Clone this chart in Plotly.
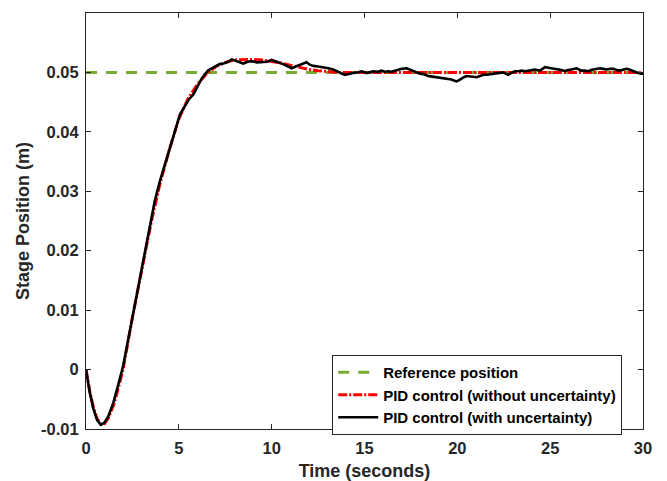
import plotly.graph_objects as go

# ---------------- data ----------------
ref_t = [0, 30]
ref_v = [0.05, 0.05]

red_t = [0, 0.2, 0.4, 0.6, 0.8, 1.0, 1.2, 1.5, 1.8, 2.0,
         2.5, 3.0, 3.5, 4.0, 4.5, 5.0, 5.5, 6.0, 6.5, 7.0,
         7.5, 8.0, 8.5, 9.0, 9.5, 10.0, 10.5, 11.0, 11.5, 12.0,
         12.5, 13.0, 13.5, 14, 15, 16, 18, 20, 22, 24,
         26, 28, 30]
red_v = [0.0, -0.0036, -0.0064, -0.0083, -0.0092, -0.0091, -0.0082, -0.0059, -0.0024, 0.0001,
         0.0088, 0.0167, 0.0246, 0.0315, 0.0371, 0.0422, 0.0456, 0.0480, 0.0498, 0.0510,
         0.0517, 0.0521, 0.0522, 0.0522, 0.0521, 0.0519, 0.0516, 0.0512, 0.0508, 0.0505,
         0.0503, 0.0501, 0.0500, 0.0500, 0.0500, 0.0500, 0.0500, 0.0500, 0.0500, 0.0500,
         0.0500, 0.0500, 0.0500]

blk_t = [0, 0.2, 0.4, 0.6, 0.8, 1.0, 1.2, 1.47, 1.7, 2.0,
         2.3, 2.55, 2.8, 3.0, 3.25, 3.45, 3.7, 3.98, 4.25, 4.52,
         4.8, 5.06, 5.3, 5.55, 5.78, 6.0, 6.2, 6.4, 6.6, 6.85,
         7.05, 7.2, 7.4, 7.6, 7.85, 8.05, 8.25, 8.47, 8.7, 8.92,
         9.2, 9.46, 9.75, 10.0, 10.2, 10.45, 10.75, 11.08, 11.3, 11.52,
         11.7, 11.88, 12.05, 12.24, 12.5, 12.78, 13.05, 13.32, 13.5, 13.7,
         13.95, 14.2, 14.39, 14.6, 14.85, 15.11, 15.3, 15.47, 15.7, 15.92,
         16.1, 16.28, 16.45, 16.64, 16.8, 17.0, 17.27, 17.45, 17.63, 17.8,
         17.99, 18.2, 18.43, 18.65, 18.89, 19.1, 19.33, 19.5, 19.69, 19.85,
         19.96, 20.1, 20.23, 20.35, 20.5, 20.7, 20.86, 21.05, 21.22, 21.4,
         21.58, 21.85, 22.05, 22.2, 22.47, 22.6, 22.74, 22.9, 23.1, 23.3,
         23.46, 23.65, 23.82, 24.0, 24.18, 24.45, 24.6, 24.72, 24.9, 25.08,
         25.25, 25.43, 25.6, 25.79, 25.95, 26.15, 26.42, 26.55, 26.69, 26.85,
         27.05, 27.2, 27.41, 27.68, 27.85, 28.04, 28.2, 28.4, 28.58, 28.76,
         28.95, 29.12, 29.25, 29.39, 29.55, 29.75, 29.9, 30.0]
blk_v = [0.0, -0.0038, -0.0066, -0.0085, -0.0093, -0.0089, -0.0079, -0.0056, -0.0030, 0.0006,
         0.0055, 0.0097, 0.0137, 0.0171, 0.0212, 0.0247, 0.0283, 0.0317, 0.0346, 0.0374,
         0.0405, 0.0429, 0.0442, 0.0455, 0.0463, 0.0476, 0.0488, 0.0497, 0.0504, 0.0508,
         0.0511, 0.0514, 0.0515, 0.0517, 0.0522, 0.0520, 0.0517, 0.0515, 0.0518, 0.0519,
         0.0517, 0.0518, 0.0518, 0.0521, 0.0519, 0.0516, 0.0512, 0.0507, 0.0510, 0.0513,
         0.0515, 0.0517, 0.0513, 0.0511, 0.0510, 0.0509, 0.0507, 0.0505, 0.0502, 0.0499,
         0.0496, 0.0497, 0.0499, 0.0500, 0.0502, 0.0499, 0.0500, 0.0502, 0.0501, 0.0503,
         0.0501, 0.0502, 0.0501, 0.0503, 0.0504, 0.0506, 0.0507, 0.0505, 0.0502, 0.0500,
         0.0498, 0.0497, 0.0494, 0.0493, 0.0492, 0.0491, 0.0490, 0.0489, 0.0488, 0.0486,
         0.0485, 0.0487, 0.0490, 0.0492, 0.0494, 0.0493, 0.0493, 0.0492, 0.0494, 0.0496,
         0.0496, 0.0497, 0.0499, 0.0499, 0.0500, 0.0498, 0.0496, 0.0499, 0.0502, 0.0502,
         0.0503, 0.0502, 0.0503, 0.0504, 0.0505, 0.0503, 0.0506, 0.0509, 0.0508, 0.0507,
         0.0507, 0.0506, 0.0504, 0.0502, 0.0504, 0.0505, 0.0507, 0.0505, 0.0503, 0.0503,
         0.0502, 0.0504, 0.0505, 0.0507, 0.0506, 0.0505, 0.0506, 0.0506, 0.0504, 0.0503,
         0.0505, 0.0506, 0.0505, 0.0503, 0.0501, 0.0499, 0.0498, 0.0498]

x_ticks = [0, 5, 10, 15, 20, 25, 30]
y_ticks = [-0.01, 0, 0.01, 0.02, 0.03, 0.04, 0.05, 0.06]
y_tick_text = ["-0.01", "0", "0.01", "0.02", "0.03", "0.04", "0.05", "0.06"]

names = ["Reference position", "PID control (without uncertainty)", "PID control (with uncertainty)"]

# ---------------- figure ----------------
AX = "#262626"
FONT = "Liberation Sans, Arial, Helvetica, sans-serif"

fig = go.Figure()
fig.add_trace(go.Scatter(x=ref_t, y=ref_v, mode="lines", name=names[0],
                         line=dict(color="#77AC30", width=3, dash="11px,9px")))
fig.add_trace(go.Scatter(x=red_t, y=red_v, mode="lines", name=names[1],
                         line=dict(color="#FF0000", width=3, dash="9px,2px,2px,2px")))
fig.add_trace(go.Scatter(x=blk_t, y=blk_v, mode="lines", name=names[2],
                         line=dict(color="#000000", width=2.6)))

# page body has an 8px default margin, so the figure is 8px smaller
fig.update_layout(
    width=659, height=473,
    margin=dict(l=78, r=24, t=5, b=52, autoexpand=False),
    paper_bgcolor="white", plot_bgcolor="white",
    font=dict(family=FONT, color=AX, size=16, weight="bold"),
    showlegend=True,
    legend=dict(x=0.442, y=0.178, xanchor="left", yanchor="top",
                bgcolor="white", bordercolor=AX, borderwidth=1,
                font=dict(size=15, color="#000000", family=FONT, weight="bold"),
                itemwidth=40, tracegroupgap=0),
)
fig.update_xaxes(range=[0, 30], tickvals=x_ticks, ticktext=[str(v) for v in x_ticks],
                 automargin=False, ticklabelstandoff=4,
                 showline=True, linecolor=AX, linewidth=1, mirror="ticks",
                 ticks="inside", ticklen=5, tickcolor=AX, showgrid=False, zeroline=False,
                 tickfont=dict(size=16.5, color=AX, family=FONT, weight="bold"),
                 title=dict(text="Time (seconds)", standoff=9,
                            font=dict(size=18, color=AX, family=FONT, weight="bold")))
fig.update_yaxes(range=[-0.01, 0.06], tickvals=y_ticks, ticktext=y_tick_text,
                 automargin=False, ticklabelstandoff=3,
                 showline=True, linecolor=AX, linewidth=1, mirror="ticks",
                 ticks="inside", ticklen=5, tickcolor=AX, showgrid=False, zeroline=False,
                 tickfont=dict(size=16.5, color=AX, family=FONT, weight="bold"),
                 title=dict(text="Stage Position (m)", standoff=6,
                            font=dict(size=18, color=AX, family=FONT, weight="bold")))

fig.write_html("out.html")
